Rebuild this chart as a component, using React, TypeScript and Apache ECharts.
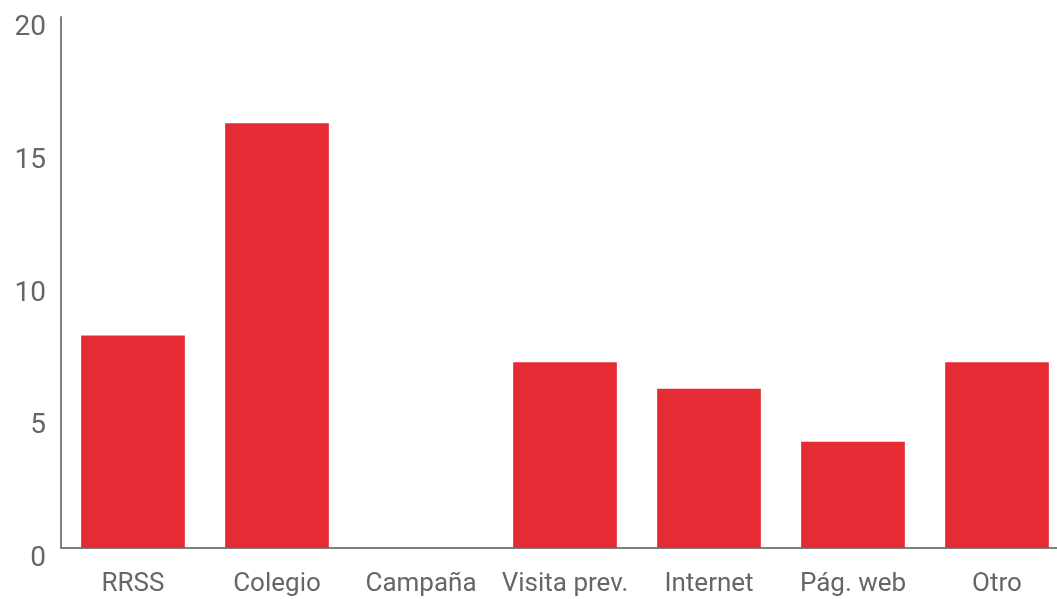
import React, { useEffect, useRef } from "react";
import * as echarts from "echarts";

const categories = ["RRSS", "Colegio", "Campaña", "Visita prev.", "Internet", "Pág. web", "Otro"];
const values = [8, 16, 0, 7, 6, 4, 7];
const yTicks = [0, 5, 10, 15, 20];

export default function App() {
  const ref = useRef<HTMLDivElement>(null);
  useEffect(() => {
    const chart = echarts.init(ref.current!, null, { renderer: "svg" });
    chart.setOption({
      animation: false,
      grid: { left: 61, width: 1008, top: 17, bottom: 51, containLabel: false, outerBoundsMode: "none" },
      xAxis: {
        type: "category",
        data: categories,
        axisLine: { show: true, lineStyle: { color: "#808080", width: 2 } },
        axisTick: { show: false },
        axisLabel: { color: "#666666", fontSize: 26, fontFamily: "Roboto", margin: 21, interval: 0 },
      },
      yAxis: {
        type: "value",
        min: yTicks[0],
        max: yTicks[yTicks.length - 1],
        interval: 5,
        splitLine: { show: false },
        axisLine: { show: true, lineStyle: { color: "#808080", width: 2 } },
        axisTick: { show: false },
        axisLabel: {
          color: "#666666",
          fontSize: 28,
          fontFamily: "Roboto",
          margin: 15,
          verticalAlign: "top",
          lineHeight: 17,
        },
      },
      series: [
        {
          type: "bar",
          data: values,
          barWidth: "72%",
          itemStyle: { color: "#E52B33" },
        },
      ],
    });
    return () => chart.dispose();
  }, []);
  return <div ref={ref} style={{ position: "fixed", left: 0, top: 0, width: 1057, height: 599 }} />;
}
